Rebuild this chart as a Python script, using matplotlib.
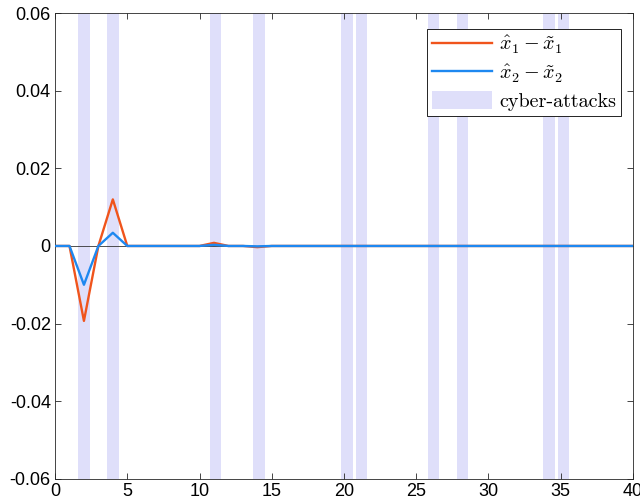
import matplotlib.pyplot as plt
import numpy as np
from matplotlib.patches import Patch
from matplotlib.lines import Line2D

plt.rcParams['font.family'] = ['Liberation Sans', 'DejaVu Sans']
plt.rcParams['mathtext.fontset'] = 'cm'
plt.rcParams['axes.unicode_minus'] = False

# time steps and estimation errors
t = np.arange(0, 41)
err1 = np.zeros(41)
err2 = np.zeros(41)
err1[2], err1[4], err1[11], err1[14] = -0.0193, 0.0120, 0.0008, -0.0003
err2[2], err2[4], err2[11], err2[14] = -0.0100, 0.0034, 0.0003, -0.0001

# cyber-attack intervals (centre of each shaded band)
attack_times = [2.0, 4.0, 11.1, 14.1, 20.2, 21.2, 26.2, 28.2, 34.2, 35.2]
attack_width = 0.8

xticks = list(range(0, 41, 5))
yticks = [-0.06, -0.04, -0.02, 0, 0.02, 0.04, 0.06]
ytick_labels = ['-0.06', '-0.04', '-0.02', '0', '0.02', '0.04', '0.06']

c_orange = '#F0541C'
c_blue = '#1E88F0'
c_band = '#DFDFFA'

fig = plt.figure(figsize=(6.4, 5.03), dpi=100)
ax = fig.add_axes([0.086, 0.048, 0.903, 0.926])

for tc in attack_times:
    ax.axvspan(tc - attack_width / 2, tc + attack_width / 2, color=c_band, lw=0, zorder=0)

ax.axhline(0, color='#333333', lw=0.6, zorder=1)
ax.plot(t, err1, color=c_orange, lw=1.7, zorder=2)
ax.plot(t, err2, color=c_blue, lw=1.7, zorder=3)

ax.set_xlim(0, 40)
ax.set_ylim(-0.06, 0.06)
ax.set_xticks(xticks)
ax.set_xticklabels([str(x) for x in xticks])
ax.set_yticks(yticks)
ax.set_yticklabels(ytick_labels)
ax.tick_params(direction='in', top=True, right=True, length=4, width=0.6,
               labelsize=13, colors='#262626', labelcolor='black', pad=3)
for s in ax.spines.values():
    s.set_color('#262626')
    s.set_linewidth(0.6)

handles = [Line2D([], [], color=c_orange, lw=1.7),
           Line2D([], [], color=c_blue, lw=1.7),
           Patch(facecolor=c_band, edgecolor='none')]
labels = [r'$\hat{x}_1-\tilde{x}_1$', r'$\hat{x}_2-\tilde{x}_2$', 'cyber-attacks']
leg = ax.legend(handles, labels, loc='upper right', bbox_to_anchor=(0.98, 0.965),
                prop={'family': 'cmr10', 'size': 14.5}, handlelength=3.0,
                handleheight=1.0, labelspacing=0.3, handletextpad=0.35,
                borderpad=0.25, borderaxespad=0, fancybox=False, framealpha=1)
leg.get_frame().set_edgecolor('black')
leg.get_frame().set_linewidth(0.6)

fig.savefig('out.png', dpi=100)
